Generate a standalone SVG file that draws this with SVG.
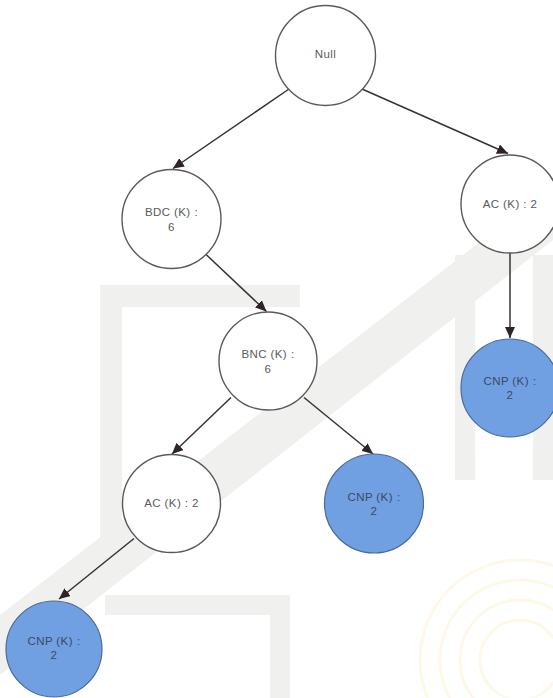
<svg xmlns="http://www.w3.org/2000/svg" width="553" height="698" viewBox="0 0 553 698">
  <style>
    .wm { fill: #f0f1ee; }
    .wmy { fill: none; stroke: #fdf8e8; stroke-width: 3; }
    .node { fill: #ffffff; stroke: #5a5a5a; stroke-width: 1.4; }
    .leaf { fill: #70a0e2; stroke: #4a6a9a; stroke-width: 1.2; }
    .lbl { font-family: "Liberation Sans", Arial, sans-serif; font-size: 11.5px; letter-spacing: 0.4px; fill: #5a5a5a; text-anchor: middle; }
    .lbl-leaf { font-family: "Liberation Sans", Arial, sans-serif; font-size: 11.5px; letter-spacing: 0.4px; fill: #3c4a5c; text-anchor: middle; }
    .edge { stroke: #3a3232; stroke-width: 1.5; fill: none; marker-end: url(#arrow); }
  </style>
  <defs>
    <marker id="arrow" markerUnits="userSpaceOnUse" markerWidth="12" markerHeight="10" refX="11" refY="5" orient="auto">
      <path d="M0,0 L11,5 L0,10 z" fill="#2e2424"/>
    </marker>
  </defs>

  <rect width="553" height="698" fill="#ffffff"/>

  <!-- faint background emblem -->
  <g id="background">
    <polygon class="wm" points="0,615 553,185 553,240 0,675"/>
    <rect class="wm" x="100" y="285" width="22" height="276"/>
    <rect class="wm" x="100" y="285" width="200" height="22"/>
    <rect class="wm" x="455" y="255" width="20" height="225"/>
    <rect class="wm" x="533" y="255" width="20" height="225"/>
    <rect class="wm" x="105" y="595" width="185" height="20"/>
    <rect class="wm" x="270" y="595" width="20" height="103"/>
    <circle class="wmy" cx="520" cy="660" r="40"/>
    <circle class="wmy" cx="520" cy="660" r="60"/>
    <circle class="wmy" cx="520" cy="660" r="80"/>
    <circle class="wmy" cx="520" cy="660" r="100"/>
  </g>

  <g id="connectors">
    <line class="edge" x1="289" y1="89" x2="173" y2="168.5"/>
    <line class="edge" x1="362" y1="89" x2="508" y2="153.5"/>
    <line class="edge" x1="206" y1="254.5" x2="266.5" y2="311.5"/>
    <line class="edge" x1="510" y1="253" x2="510" y2="338"/>
    <line class="edge" x1="231" y1="397.5" x2="172" y2="454"/>
    <line class="edge" x1="304" y1="397.5" x2="373" y2="454"/>
    <line class="edge" x1="134" y1="538.5" x2="59" y2="599"/>
  </g>

  <g id="node-null">
    <circle class="node" cx="325.5" cy="55.5" r="50"/>
    <text class="lbl" x="325.5" y="57.5">Null</text>
  </g>
  <g id="node-bdc">
    <circle class="node" cx="171.5" cy="219" r="49.5"/>
    <text class="lbl" x="171.5" y="216">BDC (K)<tspan dx="4">:</tspan></text>
    <text class="lbl" x="171.5" y="231">6</text>
  </g>
  <g id="node-ac-right">
    <circle class="node" cx="510" cy="204" r="49"/>
    <text class="lbl" x="510" y="207.5">AC (K) : 2</text>
  </g>
  <g id="node-bnc">
    <circle class="node" cx="268" cy="361" r="49"/>
    <text class="lbl" x="268" y="358">BNC (K)<tspan dx="4">:</tspan></text>
    <text class="lbl" x="268" y="373">6</text>
  </g>
  <g id="node-cnp-right">
    <circle class="leaf" cx="510" cy="388" r="49"/>
    <text class="lbl-leaf" x="510" y="385">CNP (K)<tspan dx="4">:</tspan></text>
    <text class="lbl-leaf" x="510" y="399">2</text>
  </g>
  <g id="node-ac-mid">
    <circle class="node" cx="171.5" cy="503.5" r="49"/>
    <text class="lbl" x="171.5" y="507">AC (K) : 2</text>
  </g>
  <g id="node-cnp-mid">
    <circle class="leaf" cx="374" cy="503.5" r="49.5"/>
    <text class="lbl-leaf" x="374" y="500.5">CNP (K)<tspan dx="4">:</tspan></text>
    <text class="lbl-leaf" x="374" y="515">2</text>
  </g>
  <g id="node-cnp-left">
    <circle class="leaf" cx="54" cy="649" r="48"/>
    <text class="lbl-leaf" x="54" y="645">CNP (K)<tspan dx="4">:</tspan></text>
    <text class="lbl-leaf" x="54" y="659">2</text>
  </g>
</svg>
